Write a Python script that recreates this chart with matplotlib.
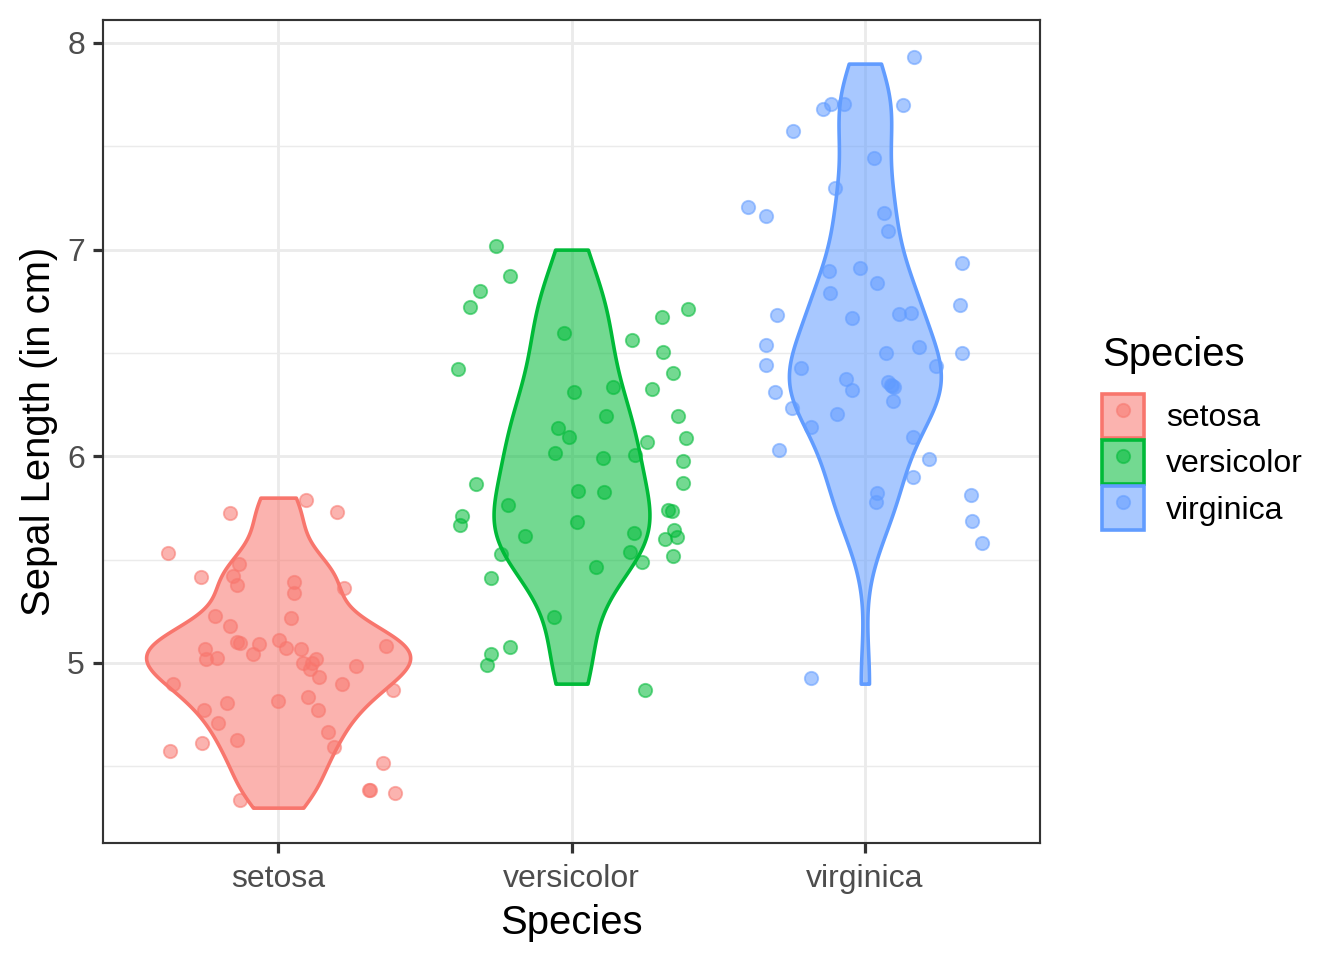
import numpy as np
import matplotlib
matplotlib.use("Agg")
import matplotlib.pyplot as plt
from matplotlib.colors import to_rgba
from matplotlib.patches import Patch
from matplotlib.lines import Line2D

plt.rcParams['font.family'] = ['Liberation Sans', 'DejaVu Sans']

species = ["setosa", "versicolor", "virginica"]
colors = ["#F8766D", "#00BA38", "#619CFF"]

# sepal length values (violins)
setosa_len = [5.1, 4.9, 4.7, 4.6, 5.0, 5.4, 4.6, 5.0, 4.4, 4.9, 5.4, 4.8, 4.8, 4.3, 5.8,
              5.7, 5.4, 5.1, 5.7, 5.1, 5.4, 5.1, 4.6, 5.1, 4.8, 5.0, 5.0, 5.2, 5.2, 4.7,
              4.8, 5.4, 5.2, 5.5, 4.9, 5.0, 5.5, 4.9, 4.4, 5.1, 5.0, 4.5, 4.4, 5.0, 5.1,
              4.8, 5.1, 4.6, 5.3, 5.0]
versicolor_len = [7.0, 6.4, 6.9, 5.5, 6.5, 5.7, 6.3, 4.9, 6.6, 5.2, 5.0, 5.9, 6.0, 6.1, 5.6,
                  6.7, 5.6, 5.8, 6.2, 5.6, 5.9, 6.1, 6.3, 6.1, 6.4, 6.6, 6.8, 6.7, 6.0, 5.7,
                  5.5, 5.5, 5.8, 6.0, 5.4, 6.0, 6.7, 6.3, 5.6, 5.5, 5.5, 6.1, 5.8, 5.0, 5.6,
                  5.7, 5.7, 6.2, 5.1, 5.7]
virginica_len = [6.3, 5.8, 7.1, 6.3, 6.5, 7.6, 4.9, 7.3, 6.7, 7.2, 6.5, 6.4, 6.8, 5.7, 5.8,
                 6.4, 6.5, 7.7, 7.7, 6.0, 6.9, 5.6, 7.7, 6.3, 6.7, 7.2, 6.2, 6.1, 6.4, 7.2,
                 7.4, 7.9, 6.4, 6.3, 6.1, 7.7, 6.3, 6.4, 6.0, 6.9, 6.7, 6.9, 5.8, 6.8, 6.7,
                 6.7, 6.3, 6.5, 6.2, 5.9]

# jittered points: horizontal offset and height
setosa_dx = [0.095, -0.164, 0.202, -0.374, -0.135, -0.264, -0.153, -0.139, 0.055, 0.055,
             0.225, -0.215, 0.044, -0.164, -0.141, -0.130, -0.249, -0.247, -0.207, -0.064,
             -0.084, 0.004, 0.026, 0.077, 0.130, 0.086, 0.115, 0.107, 0.138, 0.369,
             0.265, -0.357, 0.219, 0.391, -0.002, 0.101, 0.135, -0.173, -0.253, -0.204,
             0.170, 0.189, -0.141, -0.258, -0.369, 0.357, 0.310, 0.312, 0.397, -0.130]
setosa_jy = [5.789, 5.724, 5.732, 5.534, 5.478, 5.418, 5.421, 5.377, 5.393, 5.340,
             5.364, 5.227, 5.216, 5.179, 5.103, 5.095, 5.066, 5.018, 5.023, 5.090,
             5.042, 5.111, 5.074, 5.066, 5.018, 4.999, 5.001, 4.970, 4.931, 5.084,
             4.985, 4.898, 4.898, 4.869, 4.818, 4.834, 4.773, 4.805, 4.773, 4.711,
             4.668, 4.595, 4.627, 4.612, 4.574, 4.518, 4.386, 4.384, 4.373, 4.337]

versicolor_dx = [-0.256, -0.208, -0.311, -0.345, -0.024, 0.310, 0.397, 0.207, 0.312, -0.388,
                 0.347, 0.010, 0.142, 0.273, 0.119, 0.363, -0.047, -0.007, 0.256, 0.391,
                 -0.055, 0.108, 0.216, 0.381, 0.380, -0.324, 0.022, 0.110, -0.217, 0.329,
                 0.344, -0.373, -0.381, 0.019, -0.157, 0.213, 0.349, 0.358, 0.318, -0.242,
                 0.198, 0.241, 0.347, 0.085, -0.274, -0.058, -0.208, -0.273, -0.288, 0.249]
versicolor_jy = [7.019, 6.872, 6.800, 6.724, 6.598, 6.675, 6.711, 6.563, 6.503, 6.421,
                 6.404, 6.313, 6.334, 6.324, 6.196, 6.195, 6.135, 6.092, 6.071, 6.087,
                 6.015, 5.993, 6.006, 5.977, 5.872, 5.866, 5.832, 5.829, 5.764, 5.740,
                 5.735, 5.711, 5.668, 5.684, 5.616, 5.627, 5.643, 5.608, 5.600, 5.527,
                 5.536, 5.487, 5.519, 5.463, 5.413, 5.221, 5.079, 5.042, 4.990, 4.869]

virginica_dx = [0.168, -0.142, -0.114, -0.071, 0.131, -0.245, 0.032, -0.102, -0.398, -0.338,
                0.066, 0.078, 0.330, -0.123, -0.017, 0.040, -0.119, 0.324, -0.301, -0.045,
                0.117, 0.157, 0.184, -0.336, 0.072, 0.330, -0.336, -0.216, 0.242, -0.065,
                -0.043, 0.080, 0.089, 0.100, -0.307, 0.097, -0.250, -0.095, -0.185, 0.163,
                -0.294, 0.218, 0.165, 0.040, 0.038, 0.361, 0.364, 0.400, -0.185, 0.092]
virginica_jy = [7.933, 7.680, 7.704, 7.704, 7.699, 7.575, 7.442, 7.297, 7.208, 7.164,
                7.176, 7.091, 6.937, 6.898, 6.910, 6.837, 6.792, 6.732, 6.682, 6.668,
                6.688, 6.695, 6.531, 6.538, 6.502, 6.500, 6.442, 6.429, 6.438, 6.373,
                6.321, 6.361, 6.345, 6.334, 6.313, 6.268, 6.232, 6.205, 6.140, 6.092,
                6.030, 5.987, 5.898, 5.821, 5.777, 5.813, 5.687, 5.579, 4.929, 6.340]

lengths = [setosa_len, versicolor_len, virginica_len]
jit_dx = [setosa_dx, versicolor_dx, virginica_dx]
jit_y = [setosa_jy, versicolor_jy, virginica_jy]

ALPHA = 0.55


def nrd0(x):
    sd = np.std(x, ddof=1)
    q75, q25 = np.percentile(x, [75, 25])
    return 0.9 * min(sd, (q75 - q25) / 1.34) * len(x) ** -0.2


def kde(x):
    x = np.asarray(x)
    bw = nrd0(x)
    grid = np.linspace(x.min(), x.max(), 512)
    d = np.exp(-0.5 * ((grid[:, None] - x[None, :]) / bw) ** 2).sum(axis=1)
    d /= len(x) * bw * np.sqrt(2 * np.pi)
    return grid, d


dens = [kde(v) for v in lengths]
dmax = max(d.max() for _, d in dens)

fig = plt.figure(figsize=(7, 5), dpi=192)
ax = fig.add_axes([103 / 1344, 1 - 843 / 960, (1040 - 103) / 1344, (843 - 20) / 960])

LW = 1.07
for i, (col, (grid, d)) in enumerate(zip(colors, dens)):
    half = d / dmax * 0.45
    ax.fill_betweenx(grid, i + 1 - half, i + 1 + half, facecolor=to_rgba(col, ALPHA),
                     edgecolor=col, linewidth=1.35, zorder=2)

for i, col in enumerate(colors):
    xs = np.asarray(jit_dx[i]) + i + 1
    ax.plot(xs, jit_y[i], 'o', ls='none', ms=5.0, mfc=to_rgba(col, ALPHA),
            mec=to_rgba(col, ALPHA), mew=0.7, zorder=3)

ax.set_xlim(0.403, 3.597)
ax.set_ylim(4.129, 8.111)
ax.set_xticks([1, 2, 3])
ax.set_xticklabels(species)
ax.set_yticks([5, 6, 7, 8])
ax.set_yticks([4.5, 5.5, 6.5, 7.5], minor=True)
ax.set_axisbelow(True)
ax.grid(True, which='major', color='#EBEBEB', linewidth=LW)
ax.grid(True, which='minor', axis='y', color='#EBEBEB', linewidth=LW / 2)
ax.tick_params(which='major', direction='out', length=3.75, width=1.2, color='#333333',
               labelcolor='#4D4D4D', labelsize=12, pad=3)
ax.tick_params(axis='x', which='major', pad=4.2)
ax.tick_params(which='minor', length=0)
for s in ax.spines.values():
    s.set_color('#333333')
    s.set_linewidth(0.8)

ax.set_xlabel('Species', fontsize=15, labelpad=3.5)
ax.set_ylabel('Sepal Length (in cm)', fontsize=15, labelpad=3.5)

handles = []
for col in colors:
    p = Patch(facecolor=to_rgba(col, ALPHA), edgecolor=col, linewidth=1.35)
    m = Line2D([], [], marker='o', ls='none', ms=5.0, mfc=to_rgba(col, ALPHA),
               mec=to_rgba(col, ALPHA), mew=0.7)
    handles.append((p, m))

fig.text(1102 / 1344, 1 - 355 / 960, 'Species', fontsize=15, ha='left', va='center')
leg = fig.legend(handles, species, loc='center left',
                 bbox_to_anchor=(1102 / 1344, 1 - 462 / 960), frameon=False,
                 fontsize=12, handlelength=1.31, handleheight=1.75,
                 handletextpad=0.69, labelspacing=0.06, borderpad=0, borderaxespad=0)

fig.savefig('out.png', dpi=192)
